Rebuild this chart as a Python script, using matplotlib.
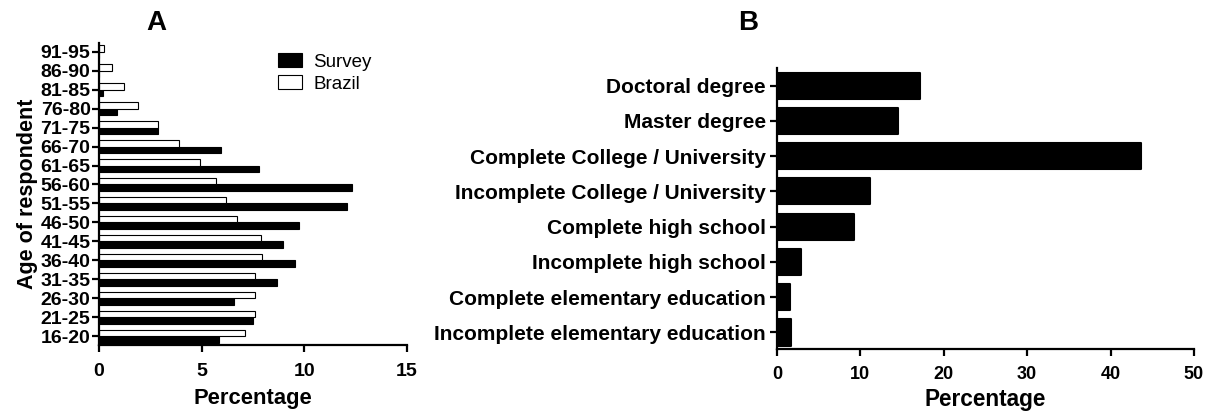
import numpy as np
import matplotlib
matplotlib.use('Agg')
import matplotlib.pyplot as plt

plt.rcParams['font.family'] = ['Liberation Sans', 'DejaVu Sans']

# Panel A: age groups
ageGroups = ['16-20', '21-25', '26-30', '31-35', '36-40', '41-45', '46-50', '51-55',
             '56-60', '61-65', '66-70', '71-75', '76-80', '81-85', '86-90', '91-95']
surveyAge = [5.86, 7.48, 6.56, 8.65, 9.53, 8.94, 9.72, 12.1,
             12.34, 7.78, 5.96, 2.89, 0.9, 0.2, 0.0, 0.0]
brazilAge = [7.09, 7.61, 7.61, 7.61, 7.95, 7.9, 6.72, 6.2,
             5.7, 4.9, 3.88, 2.87, 1.9, 1.22, 0.65, 0.24]

# Panel B: education level (bottom to top)
eduLevels = ['Incomplete elementary education', 'Complete elementary education',
             'Incomplete high school', 'Complete high school',
             'Incomplete College / University', 'Complete College / University',
             'Master degree', 'Doctoral degree']
eduPct = [1.64, 1.56, 2.9, 9.2, 11.1, 43.6, 14.5, 17.2]

fig = plt.figure(figsize=(12.14, 4.17), dpi=100)

def styleAxes(ax):
    for side in ['top', 'right']:
        ax.spines[side].set_visible(False)
    for side in ['left', 'bottom']:
        ax.spines[side].set_linewidth(1.6)
    ax.tick_params(width=1.6, length=5, direction='out')

#Panel A
axA = fig.add_axes([0.0815, 0.1727, 0.2537, 0.724])
y = np.arange(len(ageGroups))
h = 0.34
axA.barh(y - h / 2, surveyAge, height=h, color='black', edgecolor='black', linewidth=0.8, label='Survey')
axA.barh(y + h / 2, brazilAge, height=h, color='white', edgecolor='black', linewidth=0.8, label='Brazil')
axA.set_xlim(0, 15)
axA.set_ylim(-0.47, 15.46)
axA.set_xticks([0, 5, 10, 15])
axA.set_yticks(y)
axA.set_yticklabels(ageGroups)
styleAxes(axA)
for lbl in axA.get_yticklabels() + axA.get_xticklabels():
    lbl.set_fontweight('bold')
    lbl.set_fontsize(14)
axA.tick_params(axis='x', pad=8)
axA.tick_params(axis='y', pad=1)
axA.set_xlabel('Percentage', fontsize=15.8, fontweight='bold', labelpad=6)
axA.set_ylabel('Age of respondent', fontsize=15.5, fontweight='bold', labelpad=2)
fig.text(0.1285, 0.945, 'A', fontsize=20, fontweight='bold', ha='center', va='center')

fig.legend(loc='upper left', bbox_to_anchor=(0.229, 0.872), frameon=False, fontsize=13.5,
           handlelength=1.28, handleheight=0.75, handletextpad=0.59, labelspacing=0.25, borderpad=0,
           borderaxespad=0)

#Panel B
axB = fig.add_axes([0.640, 0.163, 0.3435, 0.674])
yb = np.arange(len(eduLevels))
axB.barh(yb, eduPct, height=0.74, color='black', edgecolor='black', linewidth=1.5, joinstyle='round')
axB.set_xlim(0, 50)
axB.set_ylim(-0.47, 7.5)
axB.set_xticks([0, 10, 20, 30, 40, 50])
axB.set_yticks(yb)
axB.set_yticklabels(eduLevels)
styleAxes(axB)
for lbl in axB.get_yticklabels():
    lbl.set_fontweight('bold')
    lbl.set_fontsize(15)
for lbl in axB.get_xticklabels():
    lbl.set_fontweight('bold')
    lbl.set_fontsize(13)
axB.tick_params(axis='x', pad=7)
axB.tick_params(axis='y', pad=3)
axB.set_xlabel('Percentage', fontsize=16.3, fontweight='bold', labelpad=4)
fig.text(0.616, 0.945, 'B', fontsize=20, fontweight='bold', ha='center', va='center')

plt.savefig('out.png', dpi=100)
plt.close()
